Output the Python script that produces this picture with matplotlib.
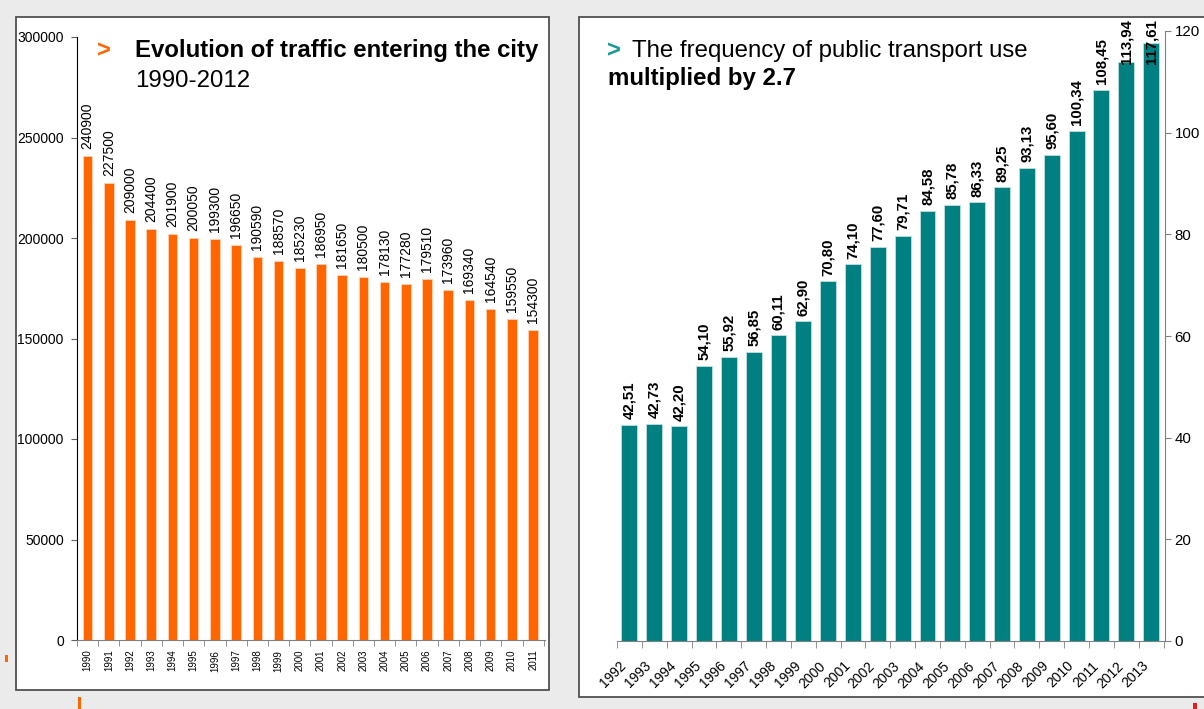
import matplotlib
matplotlib.use('Agg')
import matplotlib.pyplot as plt
from matplotlib.patches import Rectangle
import numpy as np

plt.rcParams['font.family'] = ['Liberation Sans', 'DejaVu Sans']

# ---- data ----
traffic_years = [str(y) for y in range(1990, 2012)]
traffic_values = [240900, 227500, 209000, 204400, 201900, 200050, 199300, 196650,
                  190590, 188570, 185230, 186950, 181650, 180500, 178130, 177280,
                  179510, 173960, 169340, 164540, 159550, 154300]
traffic_yticks = [0, 50000, 100000, 150000, 200000, 250000, 300000]

transport_years = [str(y) for y in range(1992, 2014)]
transport_values = [42.51, 42.73, 42.20, 54.10, 55.92, 56.85, 60.11, 62.90, 70.80,
                    74.10, 77.60, 79.71, 84.58, 85.78, 86.33, 89.25, 93.13, 95.60,
                    100.34, 108.45, 113.94, 117.61]
transport_yticks = [0, 20, 40, 60, 80, 100, 120]

ORANGE = '#ff6600'
TEAL = '#008080'
W, H = 1204, 709


def px(x0, y0, x1, y1):
    return [x0 / W, 1 - y1 / H, (x1 - x0) / W, (y1 - y0) / H]


fig = plt.figure(figsize=(12.04, 7.09), dpi=100, facecolor='#ebebeb')

# panel boxes
for (x0, y0, x1, y1) in [(16, 17, 549, 690), (579, 17, 1210, 697)]:
    fig.add_artist(Rectangle((x0 / W, 1 - y1 / H), (x1 - x0) / W, (y1 - y0) / H,
                             transform=fig.transFigure, facecolor='white',
                             edgecolor='#505050', linewidth=1.3, zorder=-5))

# stray marks
for (x0, y0, x1, y1, c) in [(5, 655, 8, 662, ORANGE), (78, 697, 81, 712, ORANGE),
                            (1193, 703, 1197, 712, '#e02020')]:
    fig.add_artist(Rectangle((x0 / W, 1 - y1 / H), (x1 - x0) / W, (y1 - y0) / H,
                             transform=fig.transFigure, facecolor=c,
                             edgecolor='none', zorder=-4))

# ---- left chart ----
ax1 = fig.add_axes(px(77, 37, 545, 640))
ax1.patch.set_visible(False)
x1 = np.arange(len(traffic_values))
ax1.bar(x1, traffic_values, width=0.45, color=ORANGE, edgecolor='#ffd2b5', linewidth=0.6)
ax1.set_ylim(0, 300000)
ax1.set_xlim(-0.47, len(x1) - 0.44)
ax1.set_yticks(traffic_yticks)
ax1.set_yticklabels([str(v) for v in traffic_yticks], fontsize=10)
ax1.set_xticks(x1)
ax1.set_xticklabels(traffic_years, rotation=90, fontsize=7)
ax1.set_xticks(np.append(x1 - 0.5, x1[-1] + 0.5), minor=True)
ax1.tick_params(axis='x', which='major', length=0, pad=7)
ax1.tick_params(axis='x', which='minor', length=4, color='#808080', direction='out')
ax1.tick_params(axis='y', length=4, direction='out', color='#606060', pad=5.5)
for s in ['top', 'right']:
    ax1.spines[s].set_visible(False)
ax1.spines['left'].set_color('black')
ax1.spines['bottom'].set_color('#808080')
for xi, v in zip(x1, traffic_values):
    ax1.annotate(str(v), (xi, v), xytext=(0, 5), textcoords='offset points',
                 rotation=90, ha='center', va='bottom', fontsize=10)

fig.text(97 / W, 1 - 57 / H, '>', color=ORANGE, fontsize=17, fontweight='bold', va='baseline')
fig.text(135 / W, 1 - 57 / H, 'Evolution of traffic entering the city', fontsize=17.3,
         fontweight='bold', va='baseline')
fig.text(135 / W, 1 - 87 / H, '1990-2012', fontsize=17.3, va='baseline')

# ---- right chart ----
ax2 = fig.add_axes(px(617, 31, 1165, 641))
ax2.patch.set_visible(False)
x2 = np.arange(len(transport_values))
ax2.bar(x2, transport_values, width=0.64, color=TEAL, edgecolor='#bfe0e0', linewidth=0.6)
ax2.set_ylim(0, 120)
ax2.set_xlim(-0.48, len(x2) - 0.44)
ax2.yaxis.tick_right()
ax2.set_yticks(transport_yticks)
ax2.set_yticklabels([str(v) for v in transport_yticks], fontsize=10.8)
ax2.set_xticks(x2)
ax2.set_xticklabels([''] * len(x2))
for xi, yr in zip(x2, transport_years):
    ax2.annotate(yr, (xi, 0), xycoords=('data', 'axes fraction'),
                 xytext=(-7.2, -12.8), textcoords='offset points',
                 rotation=45, ha='right', va='top', rotation_mode='anchor',
                 fontsize=10, annotation_clip=False)
ax2.set_xticks(np.append(x2 - 0.5, x2[-1] + 0.5), minor=True)
ax2.tick_params(axis='x', which='major', length=0)
ax2.tick_params(axis='x', which='minor', length=5, color='#808080', direction='out')
ax2.tick_params(axis='y', length=4, direction='out', color='#808080', pad=3)
for s in ['top', 'left']:
    ax2.spines[s].set_visible(False)
ax2.spines['right'].set_color('#808080')
ax2.spines['bottom'].set_color('#808080')
for xi, v in zip(x2, transport_values):
    lab = f"{v:.2f}".replace('.', ',')
    if v > 110:
        ax2.text(xi, 122.3, lab, rotation=90, ha='center', va='top', fontsize=10.8,
                 fontweight='bold', clip_on=False)
    else:
        ax2.annotate(lab, (xi, v), xytext=(0, 4), textcoords='offset points',
                     rotation=90, ha='center', va='bottom', fontsize=10.8,
                     fontweight='bold')

fig.text(607 / W, 1 - 57 / H, '>', color='#1a9a96', fontsize=17, fontweight='bold', va='baseline')
fig.text(632 / W, 1 - 57 / H, 'The frequency of public transport use', fontsize=17.3,
         va='baseline')
fig.text(608 / W, 1 - 85 / H, 'multiplied by 2.7', fontsize=17.3, fontweight='bold',
         va='baseline')

fig.savefig('out.png', dpi=100, facecolor=fig.get_facecolor())
